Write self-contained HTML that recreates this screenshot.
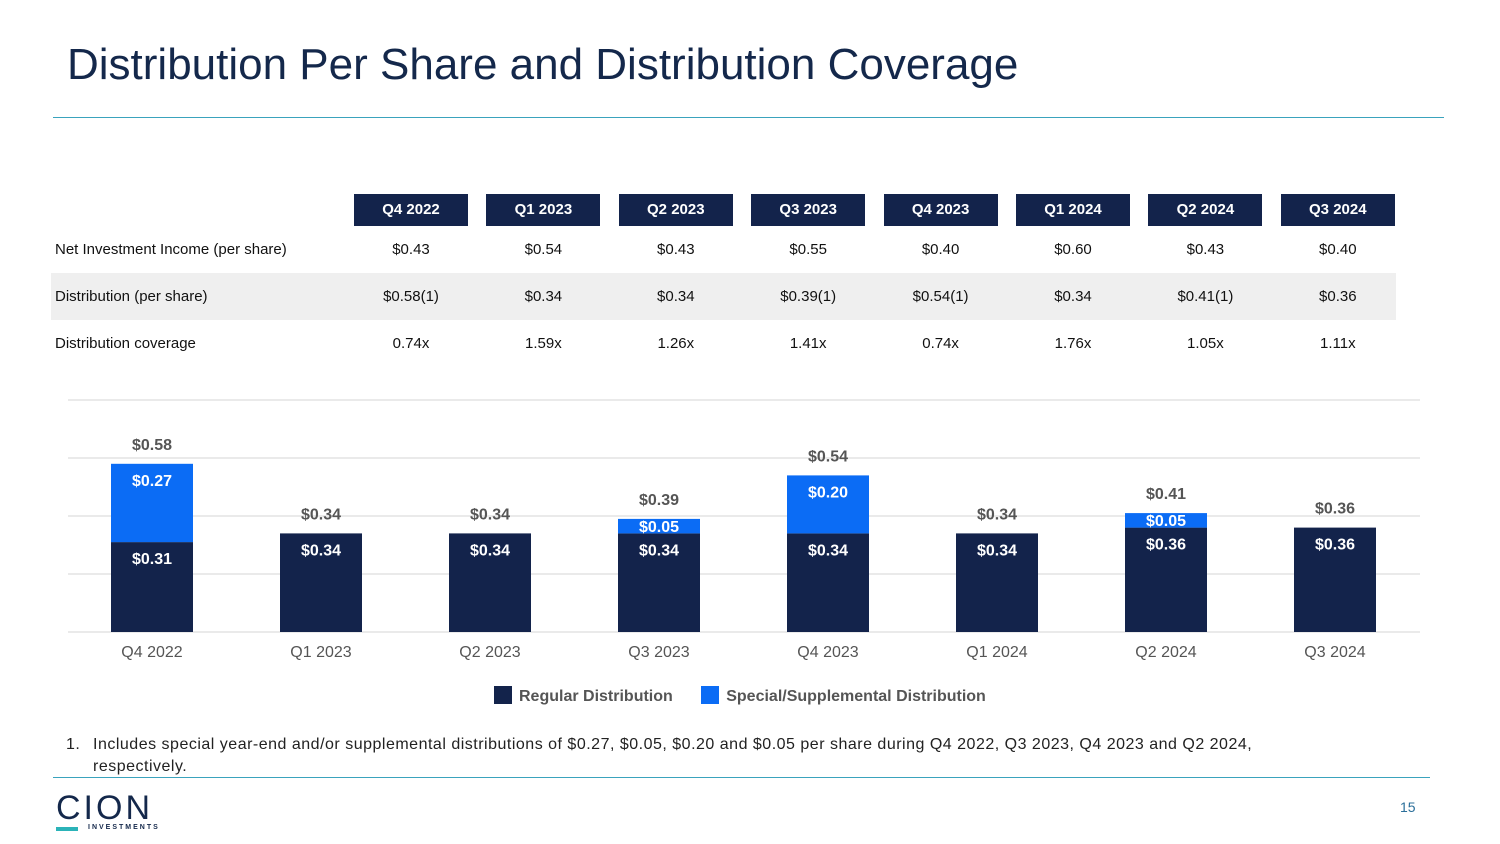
<!DOCTYPE html>
<html><head><meta charset="utf-8"><style>
body{margin:0;width:1500px;height:844px;background:#fff;font-family:"Liberation Sans",sans-serif;position:relative;overflow:hidden}
.abs{position:absolute}
.title{left:67px;top:40px;font-size:44px;color:#14284b;white-space:nowrap}
.hdr{top:194px;width:114px;height:32px;background:#13234b;color:#fff;font-weight:bold;font-size:15px;line-height:32px;text-align:center}
.cell{width:132px;text-align:center;font-size:15px;color:#111}
.lbl{left:55px;font-size:15px;color:#111}
</style></head><body>
<div class="abs title">Distribution Per Share and Distribution Coverage</div>
<div class="abs" style="left:53px;top:117px;width:1391px;height:1px;background:#3aa3bd"></div>
<div class="abs" style="left:51px;top:273px;width:1345px;height:47px;background:#efefef"></div>
<div id="table"></div>
<svg class="abs" style="left:0;top:0" width="1500" height="844" id="chart"></svg>
<div class="abs" style="left:494px;top:686px;font-size:16px;font-weight:bold;color:#555;white-space:nowrap">
<span><span style="display:inline-block;width:18px;height:18px;background:#13234b;vertical-align:-3px;margin-right:7px"></span>Regular Distribution</span>
<span style="margin-left:24px"><span style="display:inline-block;width:18px;height:18px;background:#0b6cf5;vertical-align:-3px;margin-right:7px"></span>Special/Supplemental Distribution</span>
</div>
<div class="abs" style="left:66px;top:734px;font-size:16px;letter-spacing:0.5px;color:#222;line-height:22px;width:1195px">
<span style="position:absolute;left:0">1.</span><div style="margin-left:27px">Includes special year-end and/or supplemental distributions of $0.27, $0.05, $0.20 and $0.05 per share during Q4 2022, Q3 2023, Q4 2023 and Q2 2024, respectively.</div></div>
<div class="abs" style="left:53px;top:777px;width:1377px;height:1px;background:#3aa3bd"></div>
<div class="abs" style="left:56px;top:790px;width:110px;height:45px">
<div style="font-size:34px;color:#14284b;letter-spacing:3px;line-height:36px">CION</div>
<div style="position:absolute;left:0;top:37px;width:22px;height:4px;background:#2bb3b8"></div>
<div style="position:absolute;left:32px;top:34px;font-size:7px;font-weight:bold;letter-spacing:2px;color:#14284b">INVESTMENTS</div>
</div>
<div class="abs" style="left:1400px;top:799px;font-size:14px;color:#2b6f9a">15</div>
<script>
const quarters=["Q4 2022","Q1 2023","Q2 2023","Q3 2023","Q4 2023","Q1 2024","Q2 2024","Q3 2024"];
const nii=["$0.43","$0.54","$0.43","$0.55","$0.40","$0.60","$0.43","$0.40"];
const distLabels=["$0.58(1)","$0.34","$0.34","$0.39(1)","$0.54(1)","$0.34","$0.41(1)","$0.36"];
const coverage=["0.74x","1.59x","1.26x","1.41x","0.74x","1.76x","1.05x","1.11x"];
const regular=[0.31,0.34,0.34,0.34,0.34,0.34,0.36,0.36];
const special=[0.27,0,0,0.05,0.20,0,0.05,0];
const yTicks=[0,0.2,0.4,0.6,0.8];

const t=document.getElementById('table');
const rows=[["Net Investment Income (per share)",nii,249],["Distribution (per share)",distLabels,296],["Distribution coverage",coverage,343]];
quarters.forEach((q,i)=>{
  const h=document.createElement('div');h.className='abs hdr';h.style.left=(354+i*132.4)+'px';h.textContent=q;
  
  
  t.appendChild(h);
});
rows.forEach(r=>{
  const l=document.createElement('div');l.className='abs lbl';l.style.top=(r[2]-8)+'px';l.textContent=r[0];
  
  
  t.appendChild(l);
  r[1].forEach((v,i)=>{
    const c=document.createElement('div');c.className='abs cell';c.style.left=(345+i*132.4)+'px';c.style.top=(r[2]-8)+'px';c.textContent=v;
    
    
    t.appendChild(c);
  });
});

const svg=document.getElementById('chart');const NS='http://www.w3.org/2000/svg';
const y0=632,pxPer=290;
const y=v=>y0-v*pxPer;
const x=i=>152+i*169;
function el(tag,attrs,name){const e=document.createElementNS(NS,tag);for(const k in attrs)e.setAttribute(k,attrs[k]);
  
  
  svg.appendChild(e);return e;}
yTicks.forEach(v=>el('line',{x1:68,x2:1420,y1:y(v),y2:y(v),stroke:'#e3e3e3','stroke-width':1.5},'gridline'));
function txt(s,xx,yy,fill,bold,size,name){const e=el('text',{x:xx,y:yy,fill:fill,'font-size':size,'font-weight':bold?'bold':'normal','text-anchor':'middle','font-family':'Liberation Sans, sans-serif'},name);e.textContent=s;}
quarters.forEach((q,i)=>{
  const r=regular[i],s=special[i],w=82;
  el('rect',{x:x(i)-w/2,y:y(r),width:w,height:y0-y(r),fill:'#13234b'},'bar-regular');
  txt('$'+r.toFixed(2),x(i),y(r)+22,'#fff',true,16,'bar-regular-label');
  if(s>0){
    el('rect',{x:x(i)-w/2,y:y(r+s),width:w,height:y(r)-y(r+s),fill:'#0b6cf5'},'bar-special');
    txt('$'+s.toFixed(2),x(i),y(r+s)+(s>0.1?22:13),'#fff',true,16,'bar-special-label');
  }
  txt('$'+(r+s).toFixed(2),x(i),y(r+s)-14,'#555',true,16,'bar-total-label');
  txt(q,x(i),y0+25,'#555',false,16,'x-axis-label');
});
</script>
</body></html>
